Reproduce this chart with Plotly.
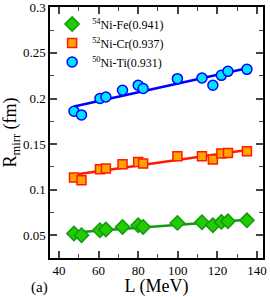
import numpy as np
import plotly.graph_objects as go

L_vals = [47.6, 51.4, 60.7, 63.7, 72.1, 80.0, 82.5, 99.8, 112.2, 117.7, 122.0, 125.3, 134.9]
r_fe = [0.0519, 0.0500, 0.0555, 0.0562, 0.0591, 0.0610, 0.0591, 0.0635, 0.0642, 0.0610, 0.0646, 0.0653, 0.0664]
r_cr = [0.1133, 0.1103, 0.1224, 0.1231, 0.1278, 0.1304, 0.1286, 0.1366, 0.1366, 0.1330, 0.1396, 0.1402, 0.1420]
r_ti = [0.1860, 0.1820, 0.2000, 0.2016, 0.2090, 0.2145, 0.2110, 0.2218, 0.2225, 0.2145, 0.2254, 0.2298, 0.2320]
names = ["<sup>54</sup>Ni-Fe(0.941)", "<sup>52</sup>Ni-Cr(0.937)", "<sup>50</sup>Ni-Ti(0.931)"]

styles = [
    dict(symbol="diamond", fill="#22cc00", edge="#119911", line="#119911", size=11),
    dict(symbol="square", fill="#ffa500", edge="#ff1a00", line="#ff1a00", size=9),
    dict(symbol="circle", fill="#00e5ff", edge="#0000ff", line="#0000ff", size=10),
]

fig = go.Figure()
x = np.array(L_vals)
for ys, nm, st in zip([r_fe, r_cr, r_ti], names, styles):
    y = np.array(ys)
    a, b = np.polyfit(x, y, 1)
    xf = np.array([x.min(), x.max()])
    fig.add_trace(go.Scatter(x=xf, y=a * xf + b, mode="lines",
                             line=dict(color=st["line"], width=2.5),
                             showlegend=False, hoverinfo="skip"))
for ys, nm, st in zip([r_fe, r_cr, r_ti], names, styles):
    fig.add_trace(go.Scatter(x=L_vals, y=ys, mode="markers", name=nm,
                             marker=dict(symbol=st["symbol"], size=st["size"], color=st["fill"],
                                         line=dict(color=st["edge"], width=1.5))))

font = "Liberation Serif"
fig.update_layout(
    width=270, height=297,
    margin=dict(l=50, r=7, t=7, b=39, autoexpand=False),
    paper_bgcolor="white", plot_bgcolor="white",
    font=dict(family=font, size=13, color="black"),
    showlegend=True,
    legend=dict(x=0.01, y=0.99, xanchor="left", yanchor="top",
                bgcolor="rgba(0,0,0,0)", font=dict(size=12, family=font),
                tracegroupgap=0, itemsizing="trace"),
    annotations=[dict(text="(a)", x=-0.1, y=-0.075, xref="paper", yref="paper",
                      xanchor="left", yanchor="top", showarrow=False,
                      font=dict(size=15, family=font))],
)
fig.update_xaxes(range=[35.5, 143], dtick=20, tick0=0, ticks="inside", ticklen=7,
                 showgrid=False, zeroline=False, showline=True, linecolor="black",
                 linewidth=1.5, mirror="allticks", tickwidth=1.5, automargin=False,
                 minor=dict(dtick=10, ticks="inside", ticklen=4, tickwidth=1.2, showgrid=False),
                 title=dict(text="L (MeV)", font=dict(size=18, family=font), standoff=5),
                 tickfont=dict(size=13, family=font), ticklabeloverflow="allow")
fig.update_yaxes(range=[0.025, 0.3004], dtick=0.05, tick0=0, ticks="inside", ticklen=7,
                 showgrid=False, zeroline=False, showline=True, linecolor="black",
                 linewidth=1.5, mirror="allticks", tickwidth=1.5, automargin=False,
                 minor=dict(dtick=0.025, ticks="inside", ticklen=4, tickwidth=1.2, showgrid=False),
                 title=dict(text="R<sub>mirr</sub> (fm)", font=dict(size=18, family=font), standoff=2),
                 tickfont=dict(size=13, family=font), ticklabeloverflow="allow")
fig.write_html("out.html", config={"displayModeBar": False},
               post_script="document.body.style.margin='0';")
